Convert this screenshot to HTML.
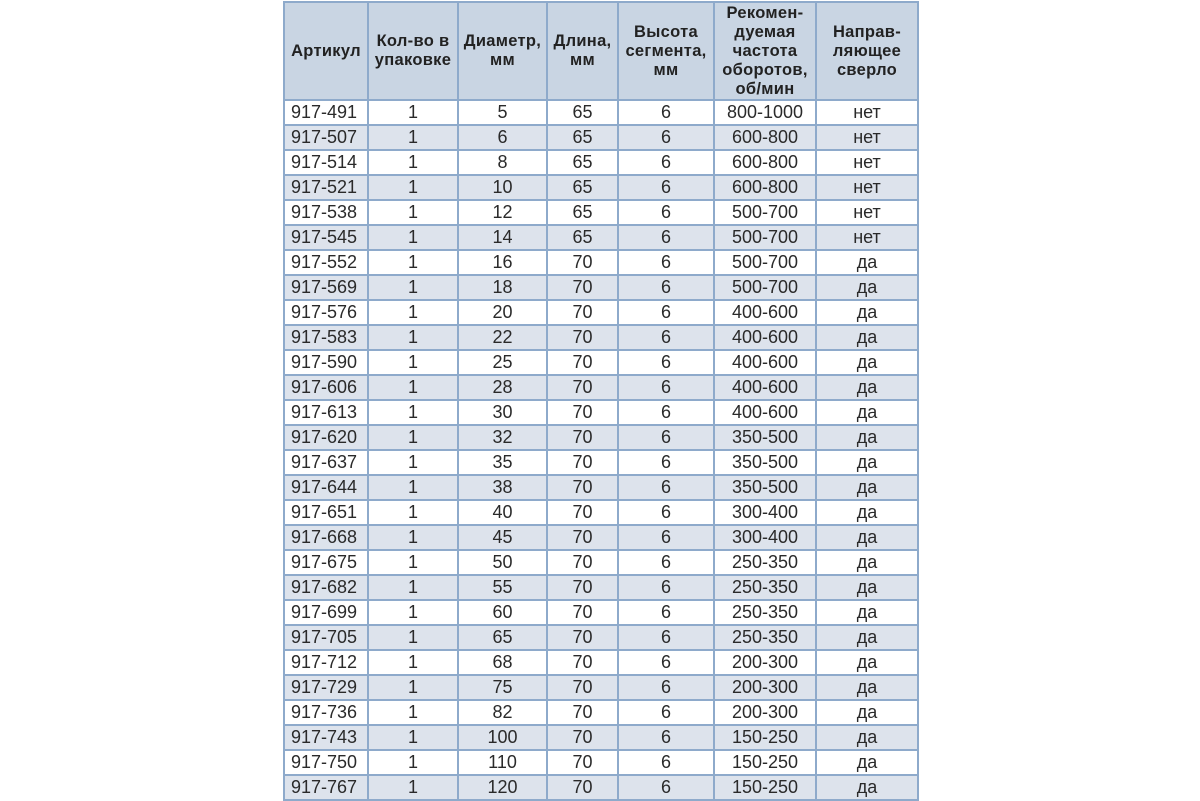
<!DOCTYPE html>
<html><head><meta charset="utf-8"><style>
body{margin:0;width:1200px;height:800px;background:#fff;overflow:hidden;position:relative}
table{position:absolute;left:283px;top:1px;border-collapse:collapse;table-layout:fixed;font-family:"Liberation Sans",Arial,sans-serif;color:#2a2a2a}
td,th{border:2px solid #8eaacb;text-align:center;padding:0;overflow:hidden;white-space:nowrap}
th{background:#c9d5e3;height:96px;font-size:16.5px;font-weight:bold;line-height:19px;color:#222;letter-spacing:0.3px}
td{height:23px;font-size:18px;line-height:23px}
tr.e td{background:#dde3ec}
td:first-child{text-align:left;padding-left:6px}
</style></head><body>
<table>
<colgroup><col style="width:84px"><col style="width:90px"><col style="width:89px"><col style="width:71px"><col style="width:96px"><col style="width:102px"><col style="width:102px"></colgroup>
<tr><th>Артикул</th><th>Кол-во в<br>упаковке</th><th>Диаметр,<br>мм</th><th>Длина,<br>мм</th><th>Высота<br>сегмента,<br>мм</th><th>Рекомен-<br>дуемая<br>частота<br>оборотов,<br>об/мин</th><th>Направ-<br>ляющее<br>сверло</th></tr>
<tr><td>917-491</td><td>1</td><td>5</td><td>65</td><td>6</td><td>800-1000</td><td>нет</td></tr>
<tr class="e"><td>917-507</td><td>1</td><td>6</td><td>65</td><td>6</td><td>600-800</td><td>нет</td></tr>
<tr><td>917-514</td><td>1</td><td>8</td><td>65</td><td>6</td><td>600-800</td><td>нет</td></tr>
<tr class="e"><td>917-521</td><td>1</td><td>10</td><td>65</td><td>6</td><td>600-800</td><td>нет</td></tr>
<tr><td>917-538</td><td>1</td><td>12</td><td>65</td><td>6</td><td>500-700</td><td>нет</td></tr>
<tr class="e"><td>917-545</td><td>1</td><td>14</td><td>65</td><td>6</td><td>500-700</td><td>нет</td></tr>
<tr><td>917-552</td><td>1</td><td>16</td><td>70</td><td>6</td><td>500-700</td><td>да</td></tr>
<tr class="e"><td>917-569</td><td>1</td><td>18</td><td>70</td><td>6</td><td>500-700</td><td>да</td></tr>
<tr><td>917-576</td><td>1</td><td>20</td><td>70</td><td>6</td><td>400-600</td><td>да</td></tr>
<tr class="e"><td>917-583</td><td>1</td><td>22</td><td>70</td><td>6</td><td>400-600</td><td>да</td></tr>
<tr><td>917-590</td><td>1</td><td>25</td><td>70</td><td>6</td><td>400-600</td><td>да</td></tr>
<tr class="e"><td>917-606</td><td>1</td><td>28</td><td>70</td><td>6</td><td>400-600</td><td>да</td></tr>
<tr><td>917-613</td><td>1</td><td>30</td><td>70</td><td>6</td><td>400-600</td><td>да</td></tr>
<tr class="e"><td>917-620</td><td>1</td><td>32</td><td>70</td><td>6</td><td>350-500</td><td>да</td></tr>
<tr><td>917-637</td><td>1</td><td>35</td><td>70</td><td>6</td><td>350-500</td><td>да</td></tr>
<tr class="e"><td>917-644</td><td>1</td><td>38</td><td>70</td><td>6</td><td>350-500</td><td>да</td></tr>
<tr><td>917-651</td><td>1</td><td>40</td><td>70</td><td>6</td><td>300-400</td><td>да</td></tr>
<tr class="e"><td>917-668</td><td>1</td><td>45</td><td>70</td><td>6</td><td>300-400</td><td>да</td></tr>
<tr><td>917-675</td><td>1</td><td>50</td><td>70</td><td>6</td><td>250-350</td><td>да</td></tr>
<tr class="e"><td>917-682</td><td>1</td><td>55</td><td>70</td><td>6</td><td>250-350</td><td>да</td></tr>
<tr><td>917-699</td><td>1</td><td>60</td><td>70</td><td>6</td><td>250-350</td><td>да</td></tr>
<tr class="e"><td>917-705</td><td>1</td><td>65</td><td>70</td><td>6</td><td>250-350</td><td>да</td></tr>
<tr><td>917-712</td><td>1</td><td>68</td><td>70</td><td>6</td><td>200-300</td><td>да</td></tr>
<tr class="e"><td>917-729</td><td>1</td><td>75</td><td>70</td><td>6</td><td>200-300</td><td>да</td></tr>
<tr><td>917-736</td><td>1</td><td>82</td><td>70</td><td>6</td><td>200-300</td><td>да</td></tr>
<tr class="e"><td>917-743</td><td>1</td><td>100</td><td>70</td><td>6</td><td>150-250</td><td>да</td></tr>
<tr><td>917-750</td><td>1</td><td>110</td><td>70</td><td>6</td><td>150-250</td><td>да</td></tr>
<tr class="e"><td>917-767</td><td>1</td><td>120</td><td>70</td><td>6</td><td>150-250</td><td>да</td></tr>
</table>
</body></html>
